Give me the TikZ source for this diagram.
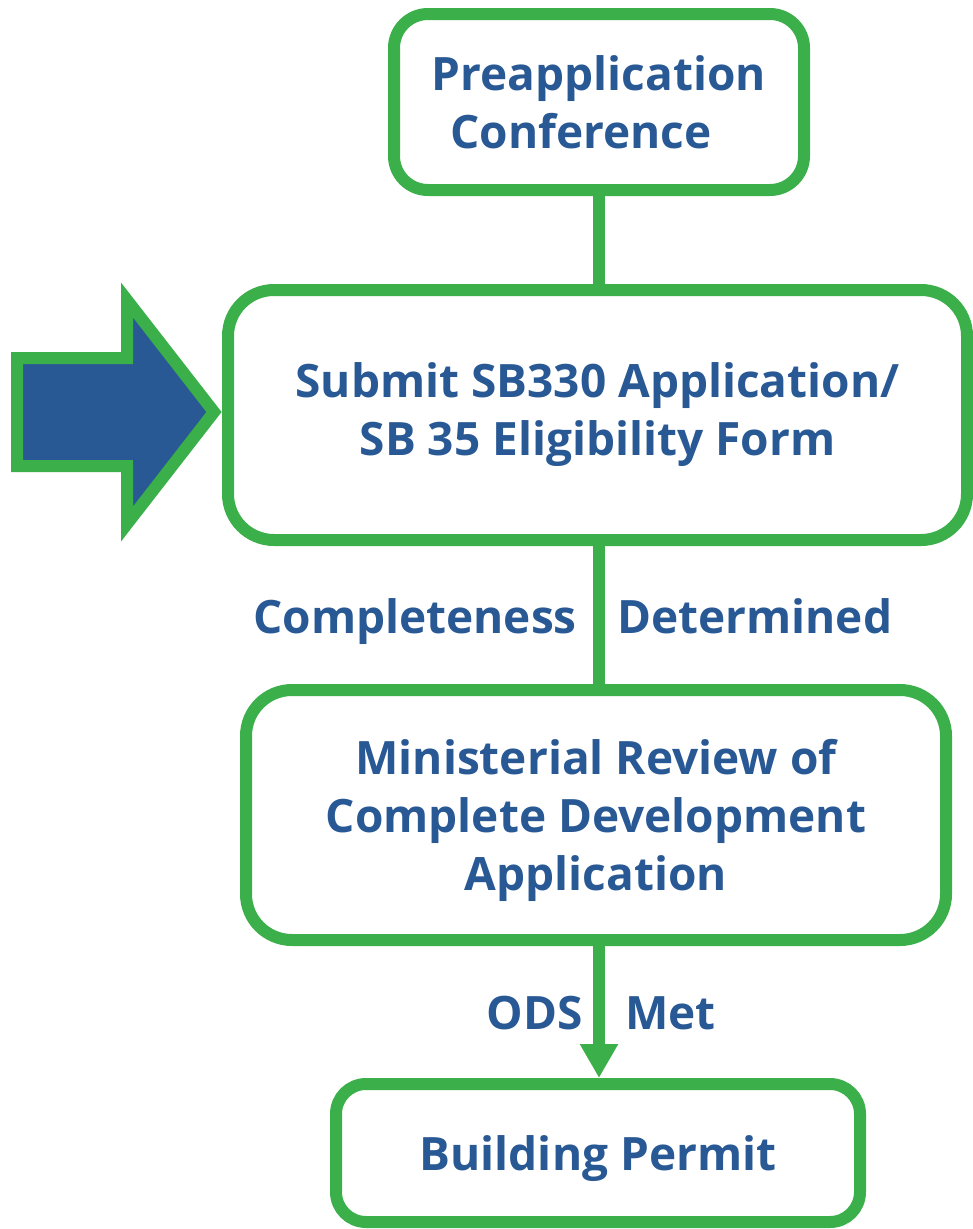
\documentclass[tikz,border=0pt]{standalone}
\usepackage{fontspec}
\setmainfont{Open Sans}
\usetikzlibrary{arrows.meta, positioning}
\definecolor{flowgreen}{RGB}{59, 176, 74}
\definecolor{flowblue}{RGB}{41, 89, 149}

\tikzset{
  flowbox/.style={draw=flowgreen, line width=12pt, fill=white, rounded corners=40pt,
    align=center, text=flowblue, font=\fontsize{46}{58}\selectfont\bfseries, inner sep=0pt},
  flowlabel/.style={text=flowblue, font=\fontsize{46}{58}\selectfont\bfseries, inner sep=0pt},
  flowline/.style={draw=flowgreen, line width=12pt}
}

\begin{document}
\begin{tikzpicture}[x=1pt, y=-1pt]
  \useasboundingbox (0,0) rectangle (973,1229);

  \node[flowbox, minimum width=410pt, minimum height=176pt, rounded corners=34pt] (pre) at (599,102)
    {Preapplication\\Conference\hspace*{36pt}};
  \node[flowbox, minimum width=739pt, minimum height=250pt, rounded corners=46pt] (sub) at (597.5,415)
    {Submit SB330 Application/\\SB 35 Eligibility Form};
  \node[flowbox, minimum width=700pt, minimum height=250pt, rounded corners=46pt, text depth=0pt] (rev) at (596,815)
    {Ministerial Review of\\Complete Development\\Application};
  \node[flowbox, minimum width=524pt, minimum height=138pt, rounded corners=30pt, text depth=0pt] (bp) at (598,1153)
    {Building Permit};

  % connectors
  \draw[flowline] (pre.south) -- (pre.south |- sub.north);
  \draw[flowline] (pre.south |- sub.south) -- (pre.south |- rev.north);
  \draw[flowline, -{Triangle[length=34pt, width=36pt]}] (pre.south |- rev.south) -- (pre.south |- bp.north);

  \node[flowlabel, anchor=base east] (compl) at (577,633) {Completeness};
  \node[flowlabel, anchor=base west] (deter) at (617,633) {Determined};
  \node[flowlabel, anchor=base east] (ods) at (583,1029) {ODS};
  \node[flowlabel, anchor=base west] (met) at (625,1029) {Met};

  % block arrow into the submit box
  \draw[draw=flowgreen, fill=flowblue, line width=12pt, line join=miter]
    (17,358) -- (127,358) -- (127,300) -- (214,412) -- (127,524) -- (127,466) -- (17,466) -- cycle;
\end{tikzpicture}
\end{document}
